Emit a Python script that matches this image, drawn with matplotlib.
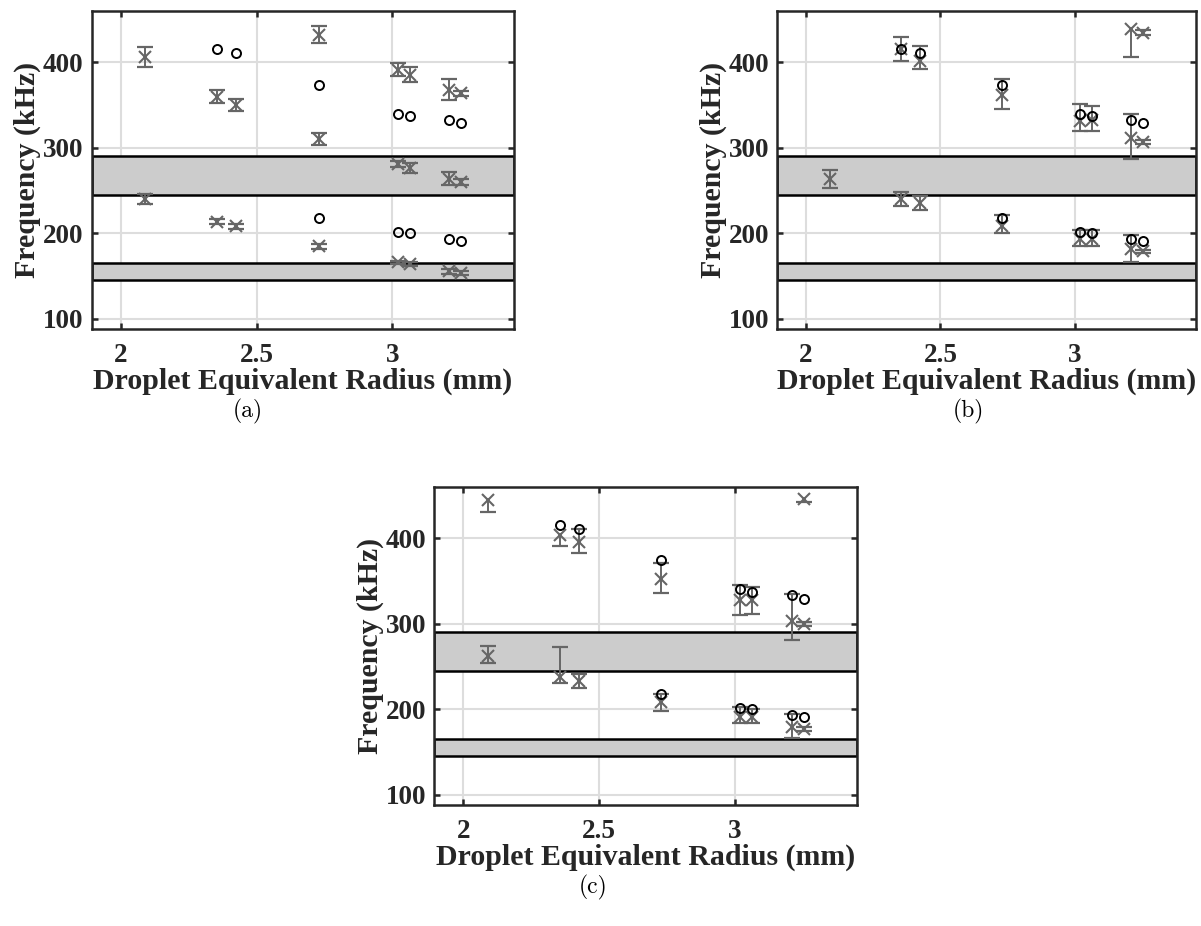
import numpy as np
import matplotlib
matplotlib.use("Agg")
import matplotlib.pyplot as plt

# predicted modes (open circles), same in every panel
pred_r_hi = [2.355, 2.425, 2.73, 3.02, 3.065, 3.21, 3.255]
pred_f_hi = [415, 410.5, 374, 340, 337.5, 333, 328.5]
pred_r_lo = [2.73, 3.02, 3.065, 3.21, 3.255]
pred_f_lo = [217.5, 201, 200, 193, 190.5]

# measured peaks with lower / upper error, panel (a)
a_r = [2.09, 2.09, 2.355, 2.425, 2.73, 2.73, 3.02, 3.065, 3.21, 3.255,
       3.02, 3.065, 3.21, 3.255, 2.355, 2.425, 2.73, 3.02, 3.065, 3.21, 3.255]
a_f = [406, 240, 360, 349.5, 432.5, 310, 391.5, 385.5, 368, 364,
       281, 276, 264, 260, 213.5, 208, 185, 166, 164, 155.5, 153.5]
a_lo = [12, 6, 8, 7, 10, 7, 8, 8.5, 12.5, 3,
        4, 6, 8, 3, 3, 3, 3, 2, 2, 3, 2]
a_hi = [12, 6, 8, 7, 10, 7, 8, 8.5, 12.5, 3,
        4, 6, 8, 3, 3, 3, 3, 2, 2, 3, 2]

# panel (b)
b_r = [2.09, 2.355, 2.425, 2.73, 3.02, 3.065, 3.21, 3.255, 3.21, 3.255,
       2.355, 2.425, 2.73, 3.02, 3.065, 3.21, 3.255]
b_f = [264, 415.5, 401, 362, 331.5, 332.5, 311, 307, 439, 434.5,
       240, 235, 208.5, 193, 193, 182, 179]
b_lo = [10.5, 14, 9, 16.5, 12, 13, 24.5, 2.5, 33, 3,
        8, 8, 8, 7.5, 7.5, 16, 2]
b_hi = [10.5, 14, 18.5, 18, 20, 16.5, 28.5, 2.5, 0, 3,
        8.5, 8.5, 13, 10.5, 10.5, 16.5, 2]

# panel (c)
c_r = [2.09, 2.09, 2.355, 2.425, 2.73, 3.02, 3.065, 3.21, 3.255, 3.255,
       2.355, 2.425, 2.73, 3.02, 3.065, 3.21, 3.255]
c_f = [445, 262.5, 404, 395, 352, 327, 327, 303.5, 299.5, 446,
       237, 233, 208, 190.5, 190.5, 179, 177]
c_lo = [15, 8, 13, 13, 16.5, 16.5, 16, 22.5, 2.5, 4,
        6, 8.5, 10, 7, 7, 13, 2]
c_hi = [0, 11, 0, 15, 18.5, 18.5, 15.5, 31, 2.5, 0,
        36, 8, 10, 11.5, 9.5, 15.5, 2]

bands = [(245, 290), (145, 165)]
gray = "#666666"
ink = "#262626"

plt.rcParams["font.family"] = ["Liberation Serif", "DejaVu Serif"]
plt.rcParams["font.weight"] = "bold"

fig = plt.figure(figsize=(12.01, 9.26), dpi=100)

panels = [
    ([0.0764, 0.6447, 0.3519, 0.3434], a_r, a_f, a_lo, a_hi, "(a)", (0.206, 0.5555)),
    ([0.6472, 0.6447, 0.3484, 0.3434], b_r, b_f, b_lo, b_hi, "(b)", (0.806, 0.5555)),
    ([0.3616, 0.1307, 0.3517, 0.3437], c_r, c_f, c_lo, c_hi, "(c)", (0.494, 0.0415)),
]


def draw(ax, r, f, lo, hi):
    r, f, lo, hi = map(np.asarray, (r, f, lo, hi))
    ax.errorbar(r, f, yerr=[lo, hi], fmt="x", color=gray, ms=8, mew=1.5,
                elinewidth=1.4, capsize=0, zorder=3)
    # caps only where the bar actually extends
    m = lo > 0
    ax.plot(r[m], (f - lo)[m], "_", color=gray, ms=11.5, mew=1.6, zorder=3)
    m = hi > 0
    ax.plot(r[m], (f + hi)[m], "_", color=gray, ms=11.5, mew=1.6, zorder=3)
    ax.plot(pred_r_hi, pred_f_hi, "o", mfc="none", mec="k", ms=6.5, mew=1.4, zorder=4)
    ax.plot(pred_r_lo, pred_f_lo, "o", mfc="none", mec="k", ms=6.5, mew=1.4, zorder=4)


for rect, r, f, lo, hi, tag, pos in panels:
    ax = fig.add_axes(rect)
    for y0, y1 in bands:
        ax.axhspan(y0, y1, facecolor="#cccccc", edgecolor="k", lw=1.8, zorder=1.5)
    draw(ax, r, f, lo, hi)
    ax.set_xlim(1.893, 3.45)
    ax.set_ylim(88, 460)
    ax.set_xticks([2, 2.5, 3])
    ax.set_xticklabels(["2", "2.5", "3"])
    ax.set_yticks([100, 200, 300, 400])
    ax.grid(True, color="#dddddd", lw=1.5)
    ax.set_axisbelow(True)
    for s in ax.spines.values():
        s.set_linewidth(1.8)
        s.set_color(ink)
    ax.tick_params(direction="in", length=4, width=1.8, top=True, right=True,
                   labelsize=19.5, color=ink, labelcolor=ink)
    ax.tick_params(axis="x", pad=10)
    ax.tick_params(axis="y", pad=6)
    ax.set_xlabel("Droplet Equivalent Radius (mm)", fontsize=21.5, fontweight="bold",
                  color=ink, labelpad=0)
    ax.set_ylabel("Frequency (kHz)", fontsize=21.5, fontweight="bold",
                  color=ink, labelpad=1)
    fig.text(pos[0], pos[1], tag, family="cmr10", fontweight="normal", fontsize=17,
             ha="center", va="center")

fig.savefig("out.png", dpi=100)
